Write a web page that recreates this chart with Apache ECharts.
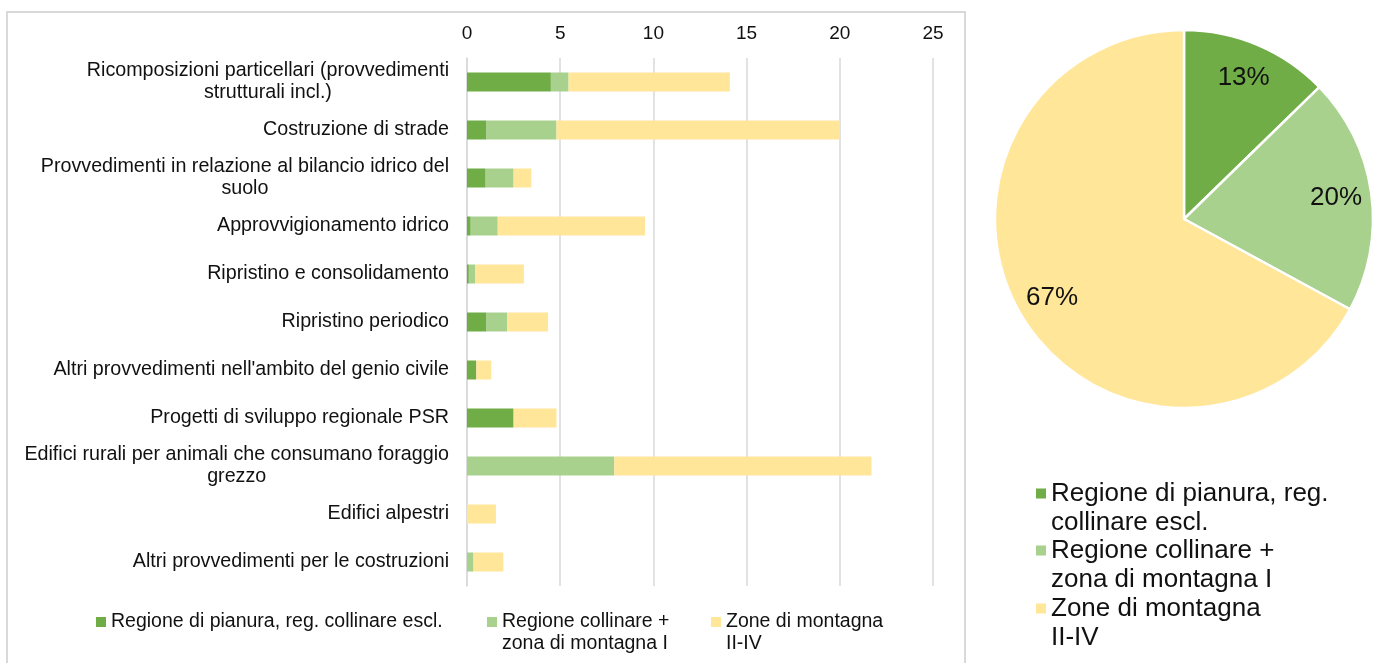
<!DOCTYPE html>
<html>
<head>
<meta charset="utf-8">
<script src="https://cdn.jsdelivr.net/npm/echarts@6/dist/echarts.min.js"></script>
<style>
  html, body { margin: 0; padding: 0; background: #fff; }
  #chart { width: 1394px; height: 663px; }
</style>
</head>
<body>
<div id="chart"></div>
<script>
// categorie (dall'alto verso il basso)
const categories = [
  'Ricomposizioni particellari (provvedimenti\nstrutturali incl.)',
  'Costruzione di strade',
  'Provvedimenti in relazione al bilancio idrico del\nsuolo',
  'Approvvigionamento idrico',
  'Ripristino e consolidamento',
  'Ripristino periodico',
  "Altri provvedimenti nell'ambito del genio civile",
  'Progetti di sviluppo regionale PSR',
  'Edifici rurali per animali che consumano foraggio\ngrezzo',
  'Edifici alpestri',
  'Altri provvedimenti per le costruzioni'
]
const seriesNames = [
  'Regione di pianura, reg. collinare escl.',
  'Regione collinare + zona di montagna I',
  'Zone di montagna II-IV'
]
const pianura = [4.5, 1.05, 1.0, 0.2, 0.1, 1.05, 0.5, 2.5, 0, 0, 0]
const collinare = [0.95, 3.75, 1.5, 1.45, 0.35, 1.1, 0, 0, 7.9, 0, 0.35]
const montagna = [8.65, 15.2, 0.95, 7.9, 2.6, 2.2, 0.8, 2.3, 13.8, 1.55, 1.6]
const xTicks = [0, 25, 5] // min, max, passo
const barLegendLabels = [
  'Regione di pianura, reg. collinare escl.',
  'Regione collinare +\nzona di montagna I',
  'Zone di montagna\nII-IV'
]
const pieLegendLabels = [
  'Regione di pianura, reg.\ncollinare escl.',
  'Regione collinare +\nzona di montagna I',
  'Zone di montagna\nII-IV'
]

const colors = ['#70ad47', '#a9d18e', '#ffe699']
const font = "'Liberation Sans', Arial, sans-serif"
const sum = arr => arr.reduce((a, b) => a + b, 0)
const pieData = [pianura, collinare, montagna].map((arr, i) => ({ name: seriesNames[i], value: sum(arr) }))

// la riga vuota in testa fa stare l'icona all'altezza della prima riga
const topAligned = txt => txt.indexOf('\n') >= 0 ? '\n' + txt : txt

const chart = echarts.init(document.getElementById('chart'))

// legende: una per voce
const barLegendPos = [[96, 611], [487, 589], [711, 589]]
const pieLegendTops = [450, 507, 565]
const legends = []
barLegendPos.forEach(([left, top], i) => {
  legends.push({
    data: [seriesNames[i]],
    left: left, top: top, padding: 0,
    icon: 'rect', itemWidth: 10, itemHeight: 10,
    selectedMode: false,
    formatter: () => topAligned(barLegendLabels[i]),
    textStyle: { fontFamily: font, fontSize: 19.5, lineHeight: 22, color: '#111' }
  })
})
pieLegendTops.forEach((top, i) => {
  legends.push({
    data: [seriesNames[i]],
    left: 1036, top: top, padding: 0,
    icon: 'rect', itemWidth: 10, itemHeight: 10,
    selectedMode: false,
    formatter: () => topAligned(pieLegendLabels[i]),
    textStyle: { fontFamily: font, fontSize: 26, lineHeight: 29, color: '#111' }
  })
})

const option = {
  animation: false,
  textStyle: { fontFamily: font },
  color: colors,
  legend: legends,
  graphic: [{
    type: 'rect',
    shape: { x: 7, y: 12, width: 958, height: 700 },
    style: { fill: 'none', stroke: '#d9d9d9', lineWidth: 2 },
    silent: true
  }],
  grid: { left: 467, width: 466, top: 58, height: 528, containLabel: false },
  xAxis: {
    type: 'value',
    position: 'top',
    min: xTicks[0], max: xTicks[1], interval: xTicks[2],
    axisLine: { show: false },
    axisTick: { show: false },
    axisLabel: { fontFamily: font, fontSize: 19, color: '#111', margin: 15 },
    splitLine: { lineStyle: { color: '#d9d9d9', width: 1.5 } }
  },
  yAxis: {
    type: 'category',
    inverse: true,
    data: categories,
    axisLine: { show: true, lineStyle: { color: '#d9d9d9', width: 1.5 } },
    axisTick: { show: false },
    axisLabel: {
      margin: 18,
      align: 'right',
      formatter: v => v.split('\n').map(l => '{c|' + l + '}').join('\n'),
      rich: {
        c: { align: 'center', fontFamily: font, fontSize: 19.7, lineHeight: 22, color: '#111' }
      }
    }
  },
  series: [
    { name: seriesNames[0], type: 'bar', stack: 'tot', barWidth: 19, data: pianura, itemStyle: { color: colors[0] } },
    { name: seriesNames[1], type: 'bar', stack: 'tot', barWidth: 19, data: collinare, itemStyle: { color: colors[1] } },
    { name: seriesNames[2], type: 'bar', stack: 'tot', barWidth: 19, data: montagna, itemStyle: { color: colors[2] } },
    {
      type: 'pie',
      center: [1184, 219],
      radius: [0, 189],
      startAngle: 90,
      clockwise: true,
      data: pieData,
      label: { show: false },
      labelLine: { show: false },
      itemStyle: { borderColor: '#fff', borderWidth: 2.5 },
      emphasis: { disabled: true }
    },
    {
      // solo etichette percentuali, spostate verso il bordo
      type: 'pie',
      center: [1184, 219],
      radius: [112, 189],
      startAngle: 90,
      clockwise: true,
      silent: true,
      percentPrecision: 0,
      data: pieData.map(d => ({ name: d.name + ' ', value: d.value })),
      itemStyle: { color: 'rgba(0,0,0,0)' },
      label: {
        show: true, position: 'inside',
        formatter: '{d}%',
        fontFamily: font, fontSize: 26, color: '#111'
      },
      labelLine: { show: false },
      emphasis: { disabled: true }
    }
  ]
}
option && chart.setOption(option)
</script>
</body>
</html>
